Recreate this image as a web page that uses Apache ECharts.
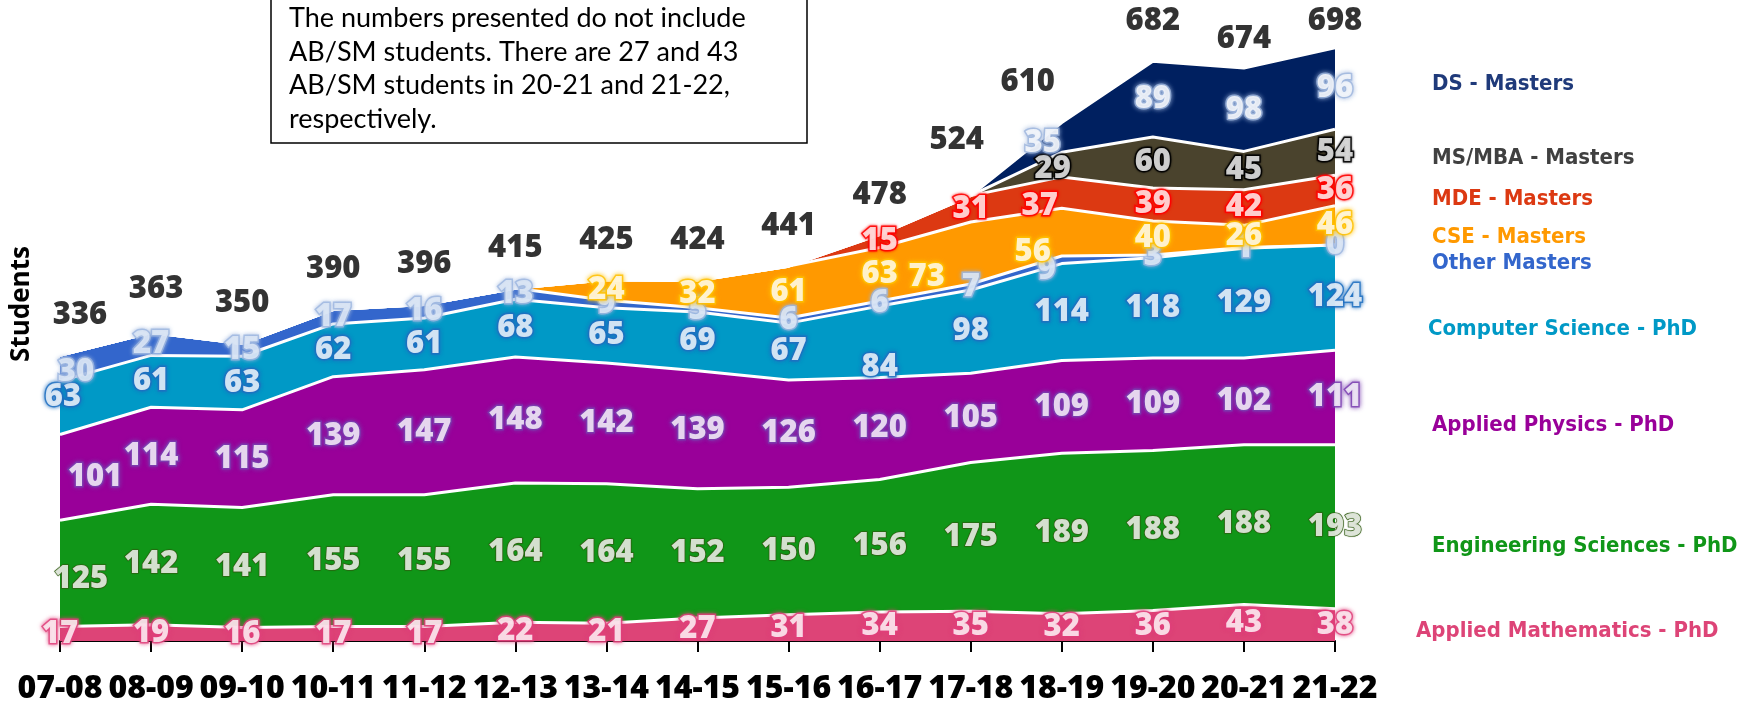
<!DOCTYPE html>
<html>
<head>
<meta charset="utf-8">
<script src="https://cdn.jsdelivr.net/npm/echarts@6/dist/echarts.min.js"></script>
<style>
  html, body { margin: 0; padding: 0; background: #fff; }
  #chart { width: 1754px; height: 706px; }
</style>
</head>
<body>
<div id="chart"></div>
<script>
const years = ['07-08', '08-09', '09-10', '10-11', '11-12', '12-13', '13-14', '14-15',
  '15-16', '16-17', '17-18', '18-19', '19-20', '20-21', '21-22']
const appliedMath = [17, 19, 16, 17, 17, 22, 21, 27, 31, 34, 35, 32, 36, 43, 38]
const engSciences = [125, 142, 141, 155, 155, 164, 164, 152, 150, 156, 175, 189, 188, 188, 193]
const appliedPhysics = [101, 114, 115, 139, 147, 148, 142, 139, 126, 120, 105, 109, 109, 102, 111]
const compSci = [63, 61, 63, 62, 61, 68, 65, 69, 67, 84, 98, 114, 118, 129, 124]
const otherMasters = [30, 27, 15, 17, 16, 13, 9, 5, 6, 6, 7, 9, 3, 1, 0]
const cseMasters = [0, 0, 0, 0, 0, 0, 24, 32, 61, 63, 73, 56, 40, 26, 46]
const mdeMasters = [0, 0, 0, 0, 0, 0, 0, 0, 0, 15, 31, 37, 39, 42, 36]
const msmbaMasters = [0, 0, 0, 0, 0, 0, 0, 0, 0, 0, 0, 29, 60, 45, 54]
const dsMasters = [0, 0, 0, 0, 0, 0, 0, 0, 0, 0, 0, 35, 89, 98, 96]
const totals = [336, 363, 350, 390, 396, 415, 425, 424, 441, 478, 524, 610, 682, 674, 698]

// bottom to top
const seriesDefs = [
  { name: 'Applied Mathematics - PhD', data: appliedMath, color: '#dd4477', text: '#fff', border: '#e0407a', blur: 4, legendY: 631, legendX: 1416 },
  { name: 'Engineering Sciences - PhD', data: engSciences, color: '#109618', text: '#fff', border: '#2f5a10', bw: 1.2, blur: 1, legendY: 546 },
  { name: 'Applied Physics - PhD', data: appliedPhysics, color: '#990099', text: '#fff', border: '#7a3fb0', blur: 5, legendY: 425 },
  { name: 'Computer Science - PhD', data: compSci, color: '#0099c6', text: '#fff', border: '#1f6fc0', blur: 4, legendY: 329, legendX: 1428 },
  { name: 'Other Masters', data: otherMasters, color: '#3366cc', text: '#e4ecf7', border: '#9db6e0', blur: 4, legendY: 263, showZero: true },
  { name: 'CSE - Masters', data: cseMasters, color: '#ff9900', text: '#fff', border: '#ffc000', blur: 5, legendY: 237 },
  { name: 'MDE - Masters', data: mdeMasters, color: '#dc3912', text: '#fff', border: '#ff0000', blur: 3, legendY: 199 },
  { name: 'MS/MBA - Masters', data: msmbaMasters, color: '#4a432d', text: '#fff', border: '#000', blur: 2, legendY: 158, legendColor: '#404040' },
  { name: 'DS - Masters', data: dsMasters, color: '#002060', text: '#fff', border: '#9fb6dd', blur: 5, legendY: 84, legendColor: '#1f3a7a' },
]

// labels that were dragged off their default spot in the original, [dx, dy]
const labelNudge = {
  'Applied Physics - PhD|0': [35, 0],
  'Engineering Sciences - PhD|0': [21, 6],
  'Computer Science - PhD|0': [3, -11],
  'Other Masters|0': [16, 4],
  'Computer Science - PhD|9': [0, 25],
  'CSE - Masters|10': [-44, 24],
  'CSE - Masters|11': [-29, 20],
  'Other Masters|11': [-15, 10],
  'MDE - Masters|11': [-22, 14],
  'MS/MBA - Masters|11': [-9, 5],
  'DS - Masters|11': [-19, 6],
}
const totalNudge = { 0: [20, 0], 1: [5, -3], 10: [-14, -15], 11: [-34, 0], 13: [0, 11], 14: [0, 13] }

const labelFont = { fontFamily: 'Open Sans', fontWeight: 800, fontSize: 31 }

const chart = echarts.init(document.getElementById('chart'))

const series = []
const base = years.map(() => 0)
seriesDefs.forEach((s) => {
  series.push({
    name: s.name,
    type: 'line',
    stack: 'area',
    data: s.data,
    symbol: 'none',
    silent: true,
    lineStyle: { width: 0 },
    areaStyle: { color: s.color, opacity: 1 },
    z: 2,
  })
  // white divider drawn above all areas
  series.push({
    type: 'line',
    stack: 'divider',
    data: s.data,
    symbol: 'none',
    silent: true,
    lineStyle: { color: '#fff', width: 3 },
    z: 3,
  })
  const pts = []
  s.data.forEach((v, i) => {
    if (v > 0 || s.showZero) {
      const n = labelNudge[s.name + '|' + i] || [0, 0]
      pts.push({ value: [i, base[i] + v / 2, v], label: { offset: n } })
    }
    base[i] += v
  })
  series.push({
    type: 'scatter',
    data: pts,
    symbolSize: 0,
    silent: true,
    z: 5,
    label: {
      show: true,
      position: 'inside',
      formatter: (p) => p.data.value[2],
      color: s.text,
      textBorderColor: s.border,
      textBorderWidth: s.bw || 3,
      textShadowColor: s.border,
      textShadowBlur: s.blur,
      ...labelFont,
    },
  })
})

series.push({
  type: 'scatter',
  data: totals.map((t, i) => {
    const n = totalNudge[i] || [0, 0]
    return { value: [i, t], label: { offset: [n[0], -40 + n[1]] } }
  }),
  symbolSize: 0,
  silent: true,
  z: 6,
  label: {
    show: true,
    position: 'inside',
    formatter: (p) => p.data.value[1],
    color: '#000',
    textBorderWidth: 0,
    ...labelFont,
  },
})

const graphic = [
  {
    type: 'rect',
    shape: { x: 271, y: -2, width: 536, height: 145 },
    style: { fill: '#fff', stroke: '#000', lineWidth: 1.5 },
    z: 10,
  },
  {
    type: 'text',
    x: 289,
    y: 2,
    z: 11,
    style: {
      text: 'The numbers presented do not include\nAB/SM students. There are 27 and 43\nAB/SM students in 20-21 and 21-22,\nrespectively.',
      font: '27px Lato',
      lineHeight: 33.5,
      fill: '#000',
    },
  },
  {
    type: 'text',
    x: 22,
    y: 304,
    rotation: Math.PI / 2,
    style: {
      text: 'Students',
      font: 'bold 26px "Open Sans"',
      fill: '#000',
      align: 'center',
      verticalAlign: 'middle',
    },
  },
]
seriesDefs.forEach((s) => {
  graphic.push({
    type: 'text',
    x: s.legendX || 1432,
    y: s.legendY,
    style: {
      text: s.name,
      font: 'bold 22px "DejaVu Sans Condensed"',
      fill: s.legendColor || s.color,
      verticalAlign: 'middle',
    },
  })
})

chart.setOption({
  animation: false,
  grid: { left: 60, right: 419, top: 46, bottom: 65 },
  xAxis: {
    type: 'category',
    data: years,
    boundaryGap: false,
    axisLine: { lineStyle: { color: '#000', width: 2 } },
    axisTick: { show: true, length: 11, lineStyle: { color: '#000', width: 2 } },
    axisLabel: {
      interval: 0,
      color: '#000',
      fontFamily: 'Open Sans',
      fontWeight: 800,
      fontSize: 32,
      margin: 32,
    },
    splitLine: { show: false },
  },
  yAxis: { type: 'value', min: 0, max: 700, show: false },
  series: series,
  graphic: graphic,
})
</script>
</body>
</html>
